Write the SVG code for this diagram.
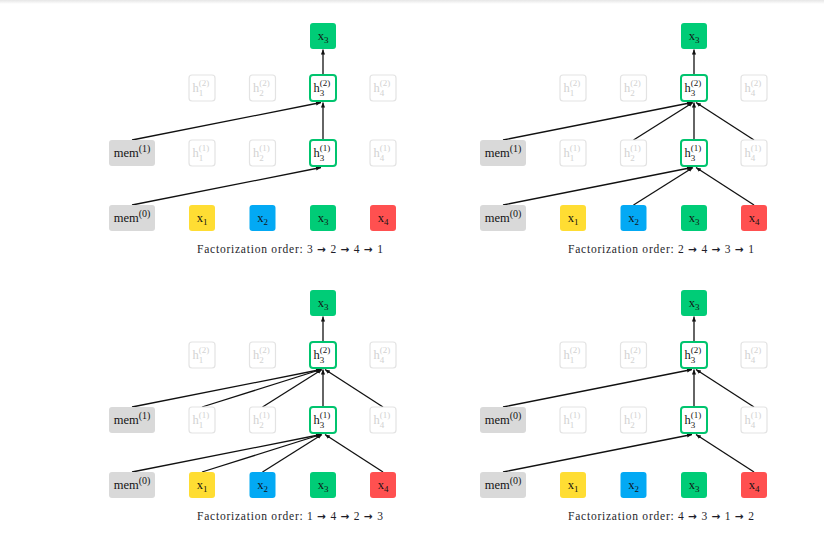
<svg xmlns="http://www.w3.org/2000/svg" width="824" height="534" viewBox="0 0 824 534">
<defs>
<linearGradient id="topshade" x1="0" y1="0" x2="0" y2="1"><stop offset="0" stop-color="#e6e6e6"/><stop offset="1" stop-color="#ffffff"/></linearGradient>
<marker id="ah" markerWidth="6" markerHeight="5" refX="5" refY="2.5" orient="auto" markerUnits="userSpaceOnUse"><path d="M0,0.4 L5,2.5 L0,4.6 z" fill="#111"/></marker>
<style>
.edges line{stroke:#111;stroke-width:1.3;marker-end:url(#ah)}
.mem{fill:#d9d9d9}
.x1{fill:#ffdd33}.x2{fill:#03a9f4}.x3{fill:#00cc77}.x4{fill:#ff5050}
.hf{fill:#fff;stroke:#e3e3e3;stroke-width:1.2}
.ha{fill:#fff;stroke:#00c46e;stroke-width:2}
text{font-family:"Liberation Serif","DejaVu Serif",serif;font-size:12.5px;fill:#141414}
text.f{fill:#d2d2d2}
.s{font-size:9px}
.sm{font-size:10px}
text.cap{font-size:11.5px;fill:#1e1e2a}
.ar{font-family:"DejaVu Sans",sans-serif;font-weight:bold;font-size:10.5px}
</style>
</defs>
<rect x="0" y="0" width="824" height="4" fill="url(#topshade)"/>

<!-- Panel A -->
<g id="panel-a">
<g id="a-edges" class="edges">
<line x1="132" y1="205" x2="321" y2="167.5"/>
<line x1="132" y1="140" x2="321" y2="102.5"/>
<line x1="323" y1="140" x2="323" y2="102.5"/>
<line x1="323" y1="75" x2="323" y2="49.5"/>
</g>
<g id="a-out"><rect class="x3" x="310" y="23" width="26" height="26" rx="3"/><text x="323" y="40" text-anchor="middle">x<tspan class="s" dy="3">3</tspan></text></g>
<g id="a-h1-2"><rect class="hf" x="189" y="75" width="26" height="26" rx="3"/><text class="f" x="192.5" y="92">h<tspan class="s" dy="3.5">1</tspan><tspan class="s" dx="-4.5" dy="-9.5">(2)</tspan></text></g>
<g id="a-h2-2"><rect class="hf" x="249.5" y="75" width="26" height="26" rx="3"/><text class="f" x="253" y="92">h<tspan class="s" dy="3.5">2</tspan><tspan class="s" dx="-4.5" dy="-9.5">(2)</tspan></text></g>
<g id="a-h3-2"><rect class="ha" x="310" y="75" width="26" height="26" rx="3"/><text x="313.5" y="92">h<tspan class="s" dy="3.5">3</tspan><tspan class="s" dx="-4.5" dy="-9.5">(2)</tspan></text></g>
<g id="a-h4-2"><rect class="hf" x="370" y="75" width="26" height="26" rx="3"/><text class="f" x="373.5" y="92">h<tspan class="s" dy="3.5">4</tspan><tspan class="s" dx="-4.5" dy="-9.5">(2)</tspan></text></g>
<g id="a-mem1"><rect class="mem" x="109" y="140" width="46" height="26" rx="3"/><text x="132" y="157" text-anchor="middle">mem<tspan class="sm" dy="-5">(1)</tspan></text></g>
<g id="a-h1-1"><rect class="hf" x="189" y="140" width="26" height="26" rx="3"/><text class="f" x="192.5" y="157">h<tspan class="s" dy="3.5">1</tspan><tspan class="s" dx="-4.5" dy="-9.5">(1)</tspan></text></g>
<g id="a-h2-1"><rect class="hf" x="249.5" y="140" width="26" height="26" rx="3"/><text class="f" x="253" y="157">h<tspan class="s" dy="3.5">2</tspan><tspan class="s" dx="-4.5" dy="-9.5">(1)</tspan></text></g>
<g id="a-h3-1"><rect class="ha" x="310" y="140" width="26" height="26" rx="3"/><text x="313.5" y="157">h<tspan class="s" dy="3.5">3</tspan><tspan class="s" dx="-4.5" dy="-9.5">(1)</tspan></text></g>
<g id="a-h4-1"><rect class="hf" x="370" y="140" width="26" height="26" rx="3"/><text class="f" x="373.5" y="157">h<tspan class="s" dy="3.5">4</tspan><tspan class="s" dx="-4.5" dy="-9.5">(1)</tspan></text></g>
<g id="a-mem0"><rect class="mem" x="109" y="205" width="46" height="26" rx="3"/><text x="132" y="222" text-anchor="middle">mem<tspan class="sm" dy="-5">(0)</tspan></text></g>
<g id="a-x1"><rect class="x1" x="189" y="205" width="26" height="26" rx="3"/><text x="202" y="222" text-anchor="middle">x<tspan class="s" dy="3">1</tspan></text></g>
<g id="a-x2"><rect class="x2" x="249.5" y="205" width="26" height="26" rx="3"/><text x="262.5" y="222" text-anchor="middle">x<tspan class="s" dy="3">2</tspan></text></g>
<g id="a-x3"><rect class="x3" x="310" y="205" width="26" height="26" rx="3"/><text x="323" y="222" text-anchor="middle">x<tspan class="s" dy="3">3</tspan></text></g>
<g id="a-x4"><rect class="x4" x="370" y="205" width="26" height="26" rx="3"/><text x="383" y="222" text-anchor="middle">x<tspan class="s" dy="3">4</tspan></text></g>
<text class="cap" x="290" y="252.5" text-anchor="middle" textLength="186" lengthAdjust="spacing">Factorization order: 3 <tspan class="ar">→</tspan> 2 <tspan class="ar">→</tspan> 4 <tspan class="ar">→</tspan> 1</text>
</g>

<!-- Panel B -->
<g id="panel-b" transform="translate(371,0)">
<g id="b-edges" class="edges">
<line x1="132" y1="205" x2="321" y2="167.5"/>
<line x1="262.5" y1="205" x2="322" y2="167.5"/>
<line x1="383" y1="205" x2="325" y2="167.5"/>
<line x1="132" y1="140" x2="321" y2="102.5"/>
<line x1="262.5" y1="140" x2="322" y2="102.5"/>
<line x1="323" y1="140" x2="323" y2="102.5"/>
<line x1="383" y1="140" x2="325" y2="102.5"/>
<line x1="323" y1="75" x2="323" y2="49.5"/>
</g>
<g id="b-out"><rect class="x3" x="310" y="23" width="26" height="26" rx="3"/><text x="323" y="40" text-anchor="middle">x<tspan class="s" dy="3">3</tspan></text></g>
<g id="b-h1-2"><rect class="hf" x="189" y="75" width="26" height="26" rx="3"/><text class="f" x="192.5" y="92">h<tspan class="s" dy="3.5">1</tspan><tspan class="s" dx="-4.5" dy="-9.5">(2)</tspan></text></g>
<g id="b-h2-2"><rect class="hf" x="249.5" y="75" width="26" height="26" rx="3"/><text class="f" x="253" y="92">h<tspan class="s" dy="3.5">2</tspan><tspan class="s" dx="-4.5" dy="-9.5">(2)</tspan></text></g>
<g id="b-h3-2"><rect class="ha" x="310" y="75" width="26" height="26" rx="3"/><text x="313.5" y="92">h<tspan class="s" dy="3.5">3</tspan><tspan class="s" dx="-4.5" dy="-9.5">(2)</tspan></text></g>
<g id="b-h4-2"><rect class="hf" x="370" y="75" width="26" height="26" rx="3"/><text class="f" x="373.5" y="92">h<tspan class="s" dy="3.5">4</tspan><tspan class="s" dx="-4.5" dy="-9.5">(2)</tspan></text></g>
<g id="b-mem1"><rect class="mem" x="109" y="140" width="46" height="26" rx="3"/><text x="132" y="157" text-anchor="middle">mem<tspan class="sm" dy="-5">(1)</tspan></text></g>
<g id="b-h1-1"><rect class="hf" x="189" y="140" width="26" height="26" rx="3"/><text class="f" x="192.5" y="157">h<tspan class="s" dy="3.5">1</tspan><tspan class="s" dx="-4.5" dy="-9.5">(1)</tspan></text></g>
<g id="b-h2-1"><rect class="hf" x="249.5" y="140" width="26" height="26" rx="3"/><text class="f" x="253" y="157">h<tspan class="s" dy="3.5">2</tspan><tspan class="s" dx="-4.5" dy="-9.5">(1)</tspan></text></g>
<g id="b-h3-1"><rect class="ha" x="310" y="140" width="26" height="26" rx="3"/><text x="313.5" y="157">h<tspan class="s" dy="3.5">3</tspan><tspan class="s" dx="-4.5" dy="-9.5">(1)</tspan></text></g>
<g id="b-h4-1"><rect class="hf" x="370" y="140" width="26" height="26" rx="3"/><text class="f" x="373.5" y="157">h<tspan class="s" dy="3.5">4</tspan><tspan class="s" dx="-4.5" dy="-9.5">(1)</tspan></text></g>
<g id="b-mem0"><rect class="mem" x="109" y="205" width="46" height="26" rx="3"/><text x="132" y="222" text-anchor="middle">mem<tspan class="sm" dy="-5">(0)</tspan></text></g>
<g id="b-x1"><rect class="x1" x="189" y="205" width="26" height="26" rx="3"/><text x="202" y="222" text-anchor="middle">x<tspan class="s" dy="3">1</tspan></text></g>
<g id="b-x2"><rect class="x2" x="249.5" y="205" width="26" height="26" rx="3"/><text x="262.5" y="222" text-anchor="middle">x<tspan class="s" dy="3">2</tspan></text></g>
<g id="b-x3"><rect class="x3" x="310" y="205" width="26" height="26" rx="3"/><text x="323" y="222" text-anchor="middle">x<tspan class="s" dy="3">3</tspan></text></g>
<g id="b-x4"><rect class="x4" x="370" y="205" width="26" height="26" rx="3"/><text x="383" y="222" text-anchor="middle">x<tspan class="s" dy="3">4</tspan></text></g>
<text class="cap" x="290" y="252.5" text-anchor="middle" textLength="186" lengthAdjust="spacing">Factorization order: 2 <tspan class="ar">→</tspan> 4 <tspan class="ar">→</tspan> 3 <tspan class="ar">→</tspan> 1</text>
</g>

<!-- Panel C -->
<g id="panel-c" transform="translate(0,267)">
<g id="c-edges" class="edges">
<line x1="132" y1="205" x2="321" y2="167.5"/>
<line x1="202" y1="205" x2="321" y2="167.5"/>
<line x1="262.5" y1="205" x2="322" y2="167.5"/>
<line x1="383" y1="205" x2="325" y2="167.5"/>
<line x1="132" y1="140" x2="321" y2="102.5"/>
<line x1="202" y1="140" x2="321" y2="102.5"/>
<line x1="262.5" y1="140" x2="322" y2="102.5"/>
<line x1="323" y1="140" x2="323" y2="102.5"/>
<line x1="383" y1="140" x2="325" y2="102.5"/>
<line x1="323" y1="75" x2="323" y2="49.5"/>
</g>
<g id="c-out"><rect class="x3" x="310" y="23" width="26" height="26" rx="3"/><text x="323" y="40" text-anchor="middle">x<tspan class="s" dy="3">3</tspan></text></g>
<g id="c-h1-2"><rect class="hf" x="189" y="75" width="26" height="26" rx="3"/><text class="f" x="192.5" y="92">h<tspan class="s" dy="3.5">1</tspan><tspan class="s" dx="-4.5" dy="-9.5">(2)</tspan></text></g>
<g id="c-h2-2"><rect class="hf" x="249.5" y="75" width="26" height="26" rx="3"/><text class="f" x="253" y="92">h<tspan class="s" dy="3.5">2</tspan><tspan class="s" dx="-4.5" dy="-9.5">(2)</tspan></text></g>
<g id="c-h3-2"><rect class="ha" x="310" y="75" width="26" height="26" rx="3"/><text x="313.5" y="92">h<tspan class="s" dy="3.5">3</tspan><tspan class="s" dx="-4.5" dy="-9.5">(2)</tspan></text></g>
<g id="c-h4-2"><rect class="hf" x="370" y="75" width="26" height="26" rx="3"/><text class="f" x="373.5" y="92">h<tspan class="s" dy="3.5">4</tspan><tspan class="s" dx="-4.5" dy="-9.5">(2)</tspan></text></g>
<g id="c-mem1"><rect class="mem" x="109" y="140" width="46" height="26" rx="3"/><text x="132" y="157" text-anchor="middle">mem<tspan class="sm" dy="-5">(1)</tspan></text></g>
<g id="c-h1-1"><rect class="hf" x="189" y="140" width="26" height="26" rx="3"/><text class="f" x="192.5" y="157">h<tspan class="s" dy="3.5">1</tspan><tspan class="s" dx="-4.5" dy="-9.5">(1)</tspan></text></g>
<g id="c-h2-1"><rect class="hf" x="249.5" y="140" width="26" height="26" rx="3"/><text class="f" x="253" y="157">h<tspan class="s" dy="3.5">2</tspan><tspan class="s" dx="-4.5" dy="-9.5">(1)</tspan></text></g>
<g id="c-h3-1"><rect class="ha" x="310" y="140" width="26" height="26" rx="3"/><text x="313.5" y="157">h<tspan class="s" dy="3.5">3</tspan><tspan class="s" dx="-4.5" dy="-9.5">(1)</tspan></text></g>
<g id="c-h4-1"><rect class="hf" x="370" y="140" width="26" height="26" rx="3"/><text class="f" x="373.5" y="157">h<tspan class="s" dy="3.5">4</tspan><tspan class="s" dx="-4.5" dy="-9.5">(1)</tspan></text></g>
<g id="c-mem0"><rect class="mem" x="109" y="205" width="46" height="26" rx="3"/><text x="132" y="222" text-anchor="middle">mem<tspan class="sm" dy="-5">(0)</tspan></text></g>
<g id="c-x1"><rect class="x1" x="189" y="205" width="26" height="26" rx="3"/><text x="202" y="222" text-anchor="middle">x<tspan class="s" dy="3">1</tspan></text></g>
<g id="c-x2"><rect class="x2" x="249.5" y="205" width="26" height="26" rx="3"/><text x="262.5" y="222" text-anchor="middle">x<tspan class="s" dy="3">2</tspan></text></g>
<g id="c-x3"><rect class="x3" x="310" y="205" width="26" height="26" rx="3"/><text x="323" y="222" text-anchor="middle">x<tspan class="s" dy="3">3</tspan></text></g>
<g id="c-x4"><rect class="x4" x="370" y="205" width="26" height="26" rx="3"/><text x="383" y="222" text-anchor="middle">x<tspan class="s" dy="3">4</tspan></text></g>
<text class="cap" x="290" y="252.5" text-anchor="middle" textLength="186" lengthAdjust="spacing">Factorization order: 1 <tspan class="ar">→</tspan> 4 <tspan class="ar">→</tspan> 2 <tspan class="ar">→</tspan> 3</text>
</g>

<!-- Panel D -->
<g id="panel-d" transform="translate(371,267)">
<g id="d-edges" class="edges">
<line x1="132" y1="205" x2="321" y2="167.5"/>
<line x1="383" y1="205" x2="325" y2="167.5"/>
<line x1="132" y1="140" x2="321" y2="102.5"/>
<line x1="323" y1="140" x2="323" y2="102.5"/>
<line x1="383" y1="140" x2="325" y2="102.5"/>
<line x1="323" y1="75" x2="323" y2="49.5"/>
</g>
<g id="d-out"><rect class="x3" x="310" y="23" width="26" height="26" rx="3"/><text x="323" y="40" text-anchor="middle">x<tspan class="s" dy="3">3</tspan></text></g>
<g id="d-h1-2"><rect class="hf" x="189" y="75" width="26" height="26" rx="3"/><text class="f" x="192.5" y="92">h<tspan class="s" dy="3.5">1</tspan><tspan class="s" dx="-4.5" dy="-9.5">(2)</tspan></text></g>
<g id="d-h2-2"><rect class="hf" x="249.5" y="75" width="26" height="26" rx="3"/><text class="f" x="253" y="92">h<tspan class="s" dy="3.5">2</tspan><tspan class="s" dx="-4.5" dy="-9.5">(2)</tspan></text></g>
<g id="d-h3-2"><rect class="ha" x="310" y="75" width="26" height="26" rx="3"/><text x="313.5" y="92">h<tspan class="s" dy="3.5">3</tspan><tspan class="s" dx="-4.5" dy="-9.5">(2)</tspan></text></g>
<g id="d-h4-2"><rect class="hf" x="370" y="75" width="26" height="26" rx="3"/><text class="f" x="373.5" y="92">h<tspan class="s" dy="3.5">4</tspan><tspan class="s" dx="-4.5" dy="-9.5">(2)</tspan></text></g>
<g id="d-mem1"><rect class="mem" x="109" y="140" width="46" height="26" rx="3"/><text x="132" y="157" text-anchor="middle">mem<tspan class="sm" dy="-5">(0)</tspan></text></g>
<g id="d-h1-1"><rect class="hf" x="189" y="140" width="26" height="26" rx="3"/><text class="f" x="192.5" y="157">h<tspan class="s" dy="3.5">1</tspan><tspan class="s" dx="-4.5" dy="-9.5">(1)</tspan></text></g>
<g id="d-h2-1"><rect class="hf" x="249.5" y="140" width="26" height="26" rx="3"/><text class="f" x="253" y="157">h<tspan class="s" dy="3.5">2</tspan><tspan class="s" dx="-4.5" dy="-9.5">(1)</tspan></text></g>
<g id="d-h3-1"><rect class="ha" x="310" y="140" width="26" height="26" rx="3"/><text x="313.5" y="157">h<tspan class="s" dy="3.5">3</tspan><tspan class="s" dx="-4.5" dy="-9.5">(1)</tspan></text></g>
<g id="d-h4-1"><rect class="hf" x="370" y="140" width="26" height="26" rx="3"/><text class="f" x="373.5" y="157">h<tspan class="s" dy="3.5">4</tspan><tspan class="s" dx="-4.5" dy="-9.5">(1)</tspan></text></g>
<g id="d-mem0"><rect class="mem" x="109" y="205" width="46" height="26" rx="3"/><text x="132" y="222" text-anchor="middle">mem<tspan class="sm" dy="-5">(0)</tspan></text></g>
<g id="d-x1"><rect class="x1" x="189" y="205" width="26" height="26" rx="3"/><text x="202" y="222" text-anchor="middle">x<tspan class="s" dy="3">1</tspan></text></g>
<g id="d-x2"><rect class="x2" x="249.5" y="205" width="26" height="26" rx="3"/><text x="262.5" y="222" text-anchor="middle">x<tspan class="s" dy="3">2</tspan></text></g>
<g id="d-x3"><rect class="x3" x="310" y="205" width="26" height="26" rx="3"/><text x="323" y="222" text-anchor="middle">x<tspan class="s" dy="3">3</tspan></text></g>
<g id="d-x4"><rect class="x4" x="370" y="205" width="26" height="26" rx="3"/><text x="383" y="222" text-anchor="middle">x<tspan class="s" dy="3">4</tspan></text></g>
<text class="cap" x="290" y="252.5" text-anchor="middle" textLength="186" lengthAdjust="spacing">Factorization order: 4 <tspan class="ar">→</tspan> 3 <tspan class="ar">→</tspan> 1 <tspan class="ar">→</tspan> 2</text>
</g>
</svg>
